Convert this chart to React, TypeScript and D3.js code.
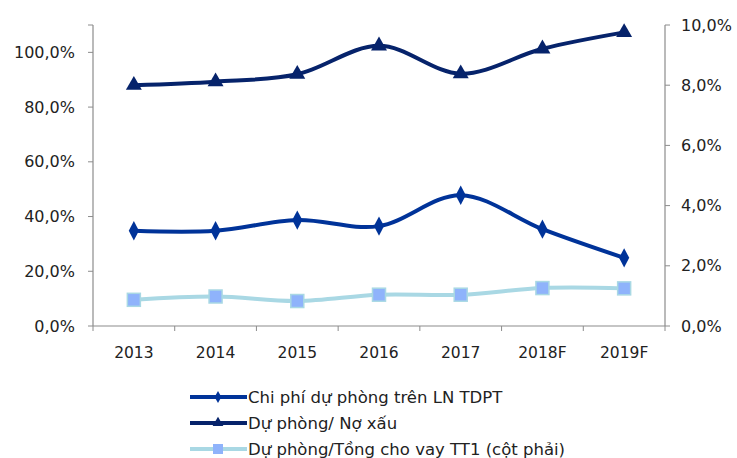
import React from "react";
import * as d3 from "d3";

const categories = ["2013", "2014", "2015", "2016", "2017", "2018F", "2019F"];
const chiPhiDuPhong = [34.8, 34.8, 38.7, 36.5, 47.8, 35.4, 24.9];
const duPhongNoXau = [88.0, 89.3, 92.0, 102.4, 92.2, 101.3, 107.3];
const duPhongTongVay = [0.87, 0.98, 0.83, 1.04, 1.04, 1.26, 1.25];
const leftTicks = [0, 20, 40, 60, 80, 100];
const rightTicks = [0, 2, 4, 6, 8, 10];
const legendLabels = [
  "Chi phí dự phòng trên LN TDPT",
  "Dự phòng/ Nợ xấu",
  "Dự phòng/Tồng cho vay TT1 (cột phải)",
];

const W = 737, H = 458;
const left = 93, right = 665, top = 25, bottom = 326;
const font = "Tahoma, 'DejaVu Sans', Verdana, sans-serif";
const fmt = (v: number) => v.toFixed(1).replace(".", ",") + "%";

export default function App() {
  const x = d3.scaleBand<string>().domain(categories).range([left, right]);
  const yL = d3.scaleLinear().domain([0, 110]).range([bottom, top]);
  const yR = d3.scaleLinear().domain([0, 10]).range([bottom, top]);
  const cx = (c: string) => (x(c) as number) + x.bandwidth() / 2;
  const line = (ys: (v: number) => number, vals: number[]) =>
    d3.line<number>().x((_, i) => cx(categories[i])).y((v) => ys(v)).curve(d3.curveCardinal.tension(0))(vals) as string;

  const c1 = "#003399", c2 = "#06236b", c3 = "#a9d8e4", c3m = "#8fb3fb";
  const axis = "#8c8c8c";
  const diamond = d3.symbol().type(d3.symbolDiamond).size(90)() as string;
  const triangle = d3.symbol().type(d3.symbolTriangle).size(110)() as string;

  return (
    <svg width={W} height={H} style={{ position: "absolute", left: 0, top: 0, background: "#fff" }}>
      {/* axes */}
      <line x1={left} x2={left} y1={top} y2={bottom} stroke={axis} strokeWidth={1.2} />
      <line x1={right} x2={right} y1={top} y2={bottom} stroke={axis} strokeWidth={1.2} />
      <line x1={left} x2={right} y1={bottom} y2={bottom} stroke={axis} strokeWidth={1.2} />
      {leftTicks.map((t) => (
        <g key={"l" + t}>
          <line x1={left - 5} x2={left} y1={yL(t)} y2={yL(t)} stroke={axis} />
          <text x={75} y={yL(t)} dy="0.35em" textAnchor="end" fontFamily={font} fontSize={16} fill="#222">{fmt(t)}</text>
        </g>
      ))}
      <line x1={left - 5} x2={left} y1={top} y2={top} stroke={axis} />
      {rightTicks.map((t) => (
        <g key={"r" + t}>
          <line x1={right} x2={right + 5} y1={yR(t)} y2={yR(t)} stroke={axis} />
          <text x={681} y={yR(t)} dy="0.35em" textAnchor="start" fontFamily={font} fontSize={16} fill="#222">{fmt(t)}</text>
        </g>
      ))}
      {categories.map((c, i) => (
        <g key={c}>
          <line x1={x(c) as number} x2={x(c) as number} y1={bottom} y2={bottom + 5} stroke={axis} />
          {i === categories.length - 1 && <line x1={right} x2={right} y1={bottom} y2={bottom + 5} stroke={axis} />}
          <text x={cx(c)} y={353} dy="0.35em" textAnchor="middle" fontFamily={font} fontSize={15.5} fill="#222">{c}</text>
        </g>
      ))}

      {/* series 3 */}
      <path d={line(yR, duPhongTongVay)} fill="none" stroke={c3} strokeWidth={4} />
      {duPhongTongVay.map((v, i) => (
        <rect key={"s3" + i} x={cx(categories[i]) - 6.5} y={yR(v) - 6.5} width={13} height={13} fill={c3m} stroke={c3} strokeWidth={1.5} />
      ))}
      {/* series 1 */}
      <path d={line(yL, chiPhiDuPhong)} fill="none" stroke={c1} strokeWidth={4} />
      {chiPhiDuPhong.map((v, i) => (
        <path key={"s1" + i} d={diamond} transform={`translate(${cx(categories[i])},${yL(v)}) scale(1,1.1)`} fill={c1} />
      ))}
      {/* series 2 */}
      <path d={line(yL, duPhongNoXau)} fill="none" stroke={c2} strokeWidth={4} />
      {duPhongNoXau.map((v, i) => (
        <path key={"s2" + i} d={triangle} transform={`translate(${cx(categories[i])},${yL(v)})`} fill={c2} />
      ))}

      {/* legend */}
      {legendLabels.map((lab, i) => {
        const ly = 397 + i * 26;
        const col = [c1, c2, c3][i];
        return (
          <g key={lab}>
            <line x1={190} x2={247} y1={ly} y2={ly} stroke={col} strokeWidth={4} />
            {i === 0 && <path d={d3.symbol().type(d3.symbolDiamond).size(40)() as string} transform={`translate(218,${ly})`} fill={c1} />}
            {i === 1 && <path d={d3.symbol().type(d3.symbolTriangle).size(50)() as string} transform={`translate(218,${ly})`} fill={c2} />}
            {i === 2 && <rect x={213} y={ly - 5} width={10} height={10} fill={c3m} />}
            <text x={248} y={ly} dy="0.35em" fontFamily={font} fontSize={16.5} fill="#222">{lab}</text>
          </g>
        );
      })}
    </svg>
  );
}
